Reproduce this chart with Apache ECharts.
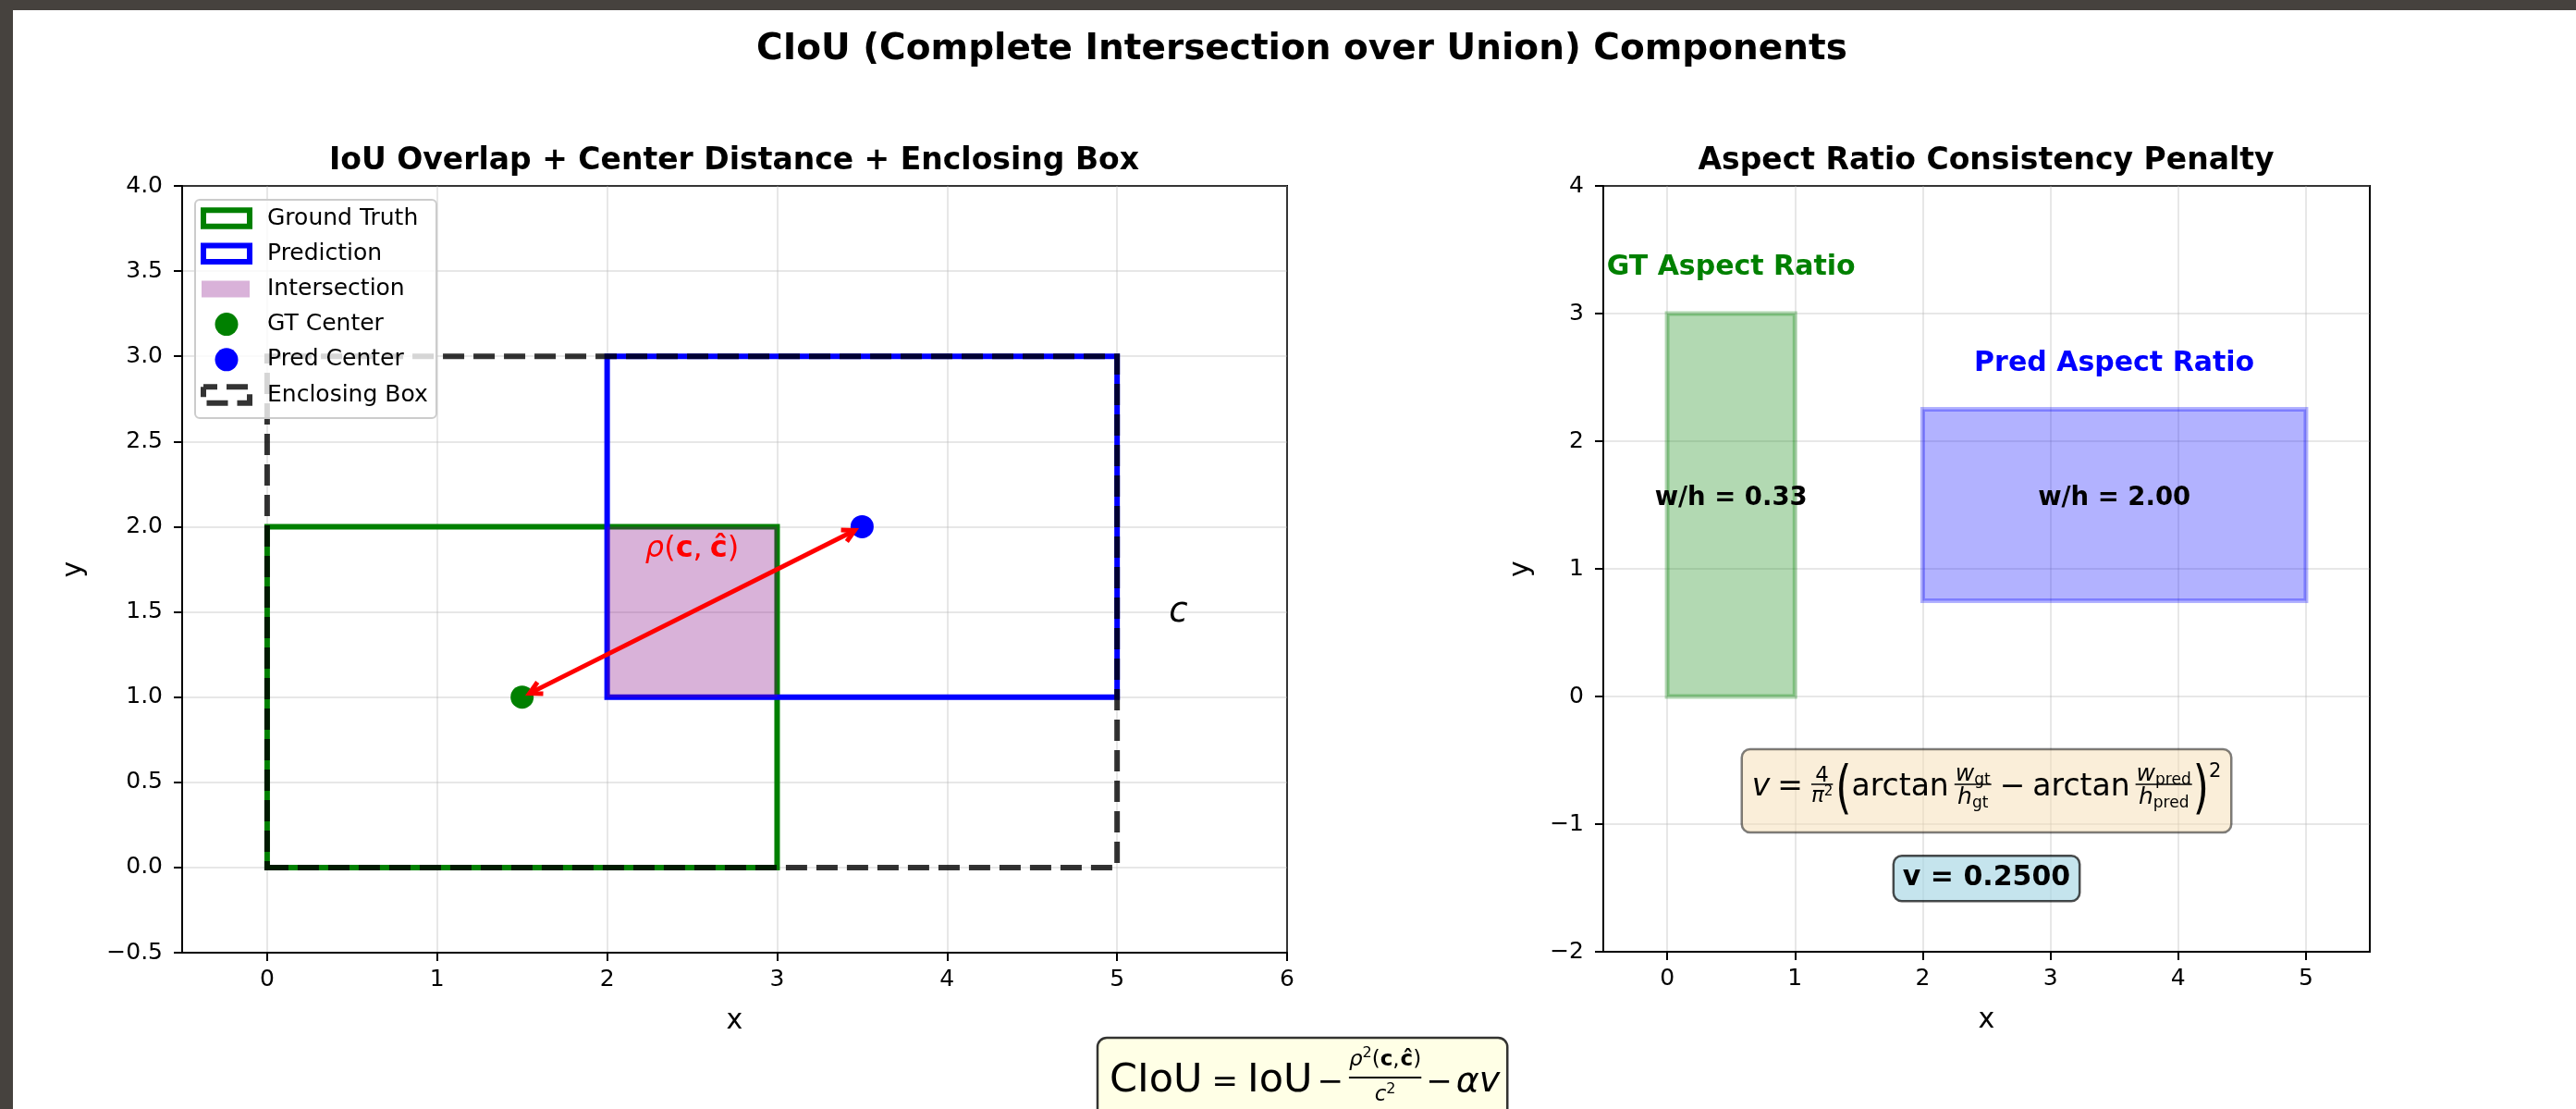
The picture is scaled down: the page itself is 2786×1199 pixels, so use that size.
<!DOCTYPE html>
<html><head><meta charset="utf-8">
<script src="https://cdn.jsdelivr.net/npm/echarts@6/dist/echarts.min.js"></script>
<style>
html,body{margin:0;padding:0;background:#46423e;width:2786px;height:1199px;overflow:hidden}
#bg{position:absolute;left:14px;top:11px;width:2772px;height:1188px;background:#fff}
#chart{position:absolute;left:0;top:0;width:2786px;height:1199px}
</style></head><body><div id="bg"></div><div id="chart"></div>
<script>
// ================= DATA =================
// Left panel: boxes as [x1, y1, x2, y2]
const gtBox = [0, 0, 3, 2];
const predBox = [2, 1, 5, 3];
const interBox = [2, 1, 3, 2];
const enclosingBox = [0, 0, 5, 3];
const gtCenter = [1.5, 1.0];
const predCenter = [3.5, 2.0];
const leftXTicks = [0, 1, 2, 3, 4, 5, 6];
const leftYTicks = [-0.5, 0, 0.5, 1, 1.5, 2, 2.5, 3, 3.5, 4];
// Right panel
const gtAspectRect = [0, 0, 1, 3];
const predAspectRect = [2, 0.75, 5, 2.25];
const aspectRatioLabels = ['w/h = 0.33', 'w/h = 2.00'];
const vValue = 0.2500;
const rightXTicks = [0, 1, 2, 3, 4, 5];
const rightYTicks = [-2, -1, 0, 1, 2, 3, 4];
const legendNames = ['Ground Truth', 'Prediction', 'Intersection', 'GT Center', 'Pred Center', 'Enclosing Box'];

// ================= HELPERS =================
const FONT = '"DejaVu Sans", sans-serif';
const mctx = document.createElement('canvas').getContext('2d');
function fnt(s, it, b) { return (it ? 'italic ' : '') + (b ? 'bold ' : '') + s + 'px ' + FONT; }
function tw(t, f) { mctx.font = f; return mctx.measureText(t).width; }
const MID = 0.27; // em-middle above baseline (fraction of size)

function itemW(it) {
  if (it.gap != null) return it.gap;
  if (it.num) return Math.max(runW(it.num), runW(it.den)) + 2 * (it.pad != null ? it.pad : 3);
  return tw(it.t, fnt(it.s, it.it, it.b)) * (it.sx || 1);
}
function runW(items) { return items.reduce((a, it) => a + itemW(it), 0); }
function renderRun(items, x, base, color, out) {
  for (const it of items) {
    const w = itemW(it);
    if (it.num) {
      const bar = base - it.axis;
      out.push({ type: 'rect', shape: { x: x + 1, y: bar - it.lw / 2, width: w - 2, height: it.lw }, style: { fill: color } });
      const nw = runW(it.num), dw = runW(it.den);
      renderRun(it.num, x + (w - nw) / 2, bar - it.nb, color, out);
      renderRun(it.den, x + (w - dw) / 2, bar + it.db, color, out);
    } else if (it.t != null) {
      const ty = (it.cy != null) ? base - it.cy : base - (it.dy || 0) - MID * it.s;
      out.push({ type: 'text', x: x, y: ty, scaleX: it.sx || 1, scaleY: it.sy || 1,
        style: { text: it.t, x: 0, y: 0, font: fnt(it.s, it.it, it.b), fill: color, align: 'left', verticalAlign: 'middle' } });
    }
    x += w;
  }
  return x;
}

// ---- formula definitions ----
const B = 43, BO = 34, BS = 23, BSS = 16;
const ciouFormula = [
  { t: 'CIoU', s: B }, { gap: 10 }, { t: '=', s: BO }, { gap: 10 }, { t: 'IoU', s: B },
  { gap: 5 }, { t: '−', s: BO }, { gap: 5 },
  { num: [{ t: 'ρ', s: BS, it: true }, { t: '2', s: BSS, dy: 9 }, { t: '(', s: BS }, { t: 'c', s: BS, b: true },
          { t: ',', s: BS }, { gap: 1 }, { t: 'ĉ', s: BS, b: true }, { t: ')', s: BS }],
    den: [{ t: 'c', s: BS, it: true }, { t: '2', s: BSS, dy: 8 }], axis: 15, nb: 13, db: 25, lw: 2, pad: 1 },
  { gap: 4 }, { t: '−', s: BO }, { gap: 4 }, { t: 'α', s: 38, it: true }, { t: 'v', s: 38, it: true }
];
const V = 33, VS = 25, VSS = 17;
function fracWH(sub) {
  return { num: [{ t: 'w', s: VS, it: true }, { t: sub, s: VSS, dy: -4 }],
           den: [{ t: 'h', s: VS, it: true }, { t: sub, s: VSS, dy: -4 }], axis: 12, nb: 4, db: 21, lw: 1.5, pad: 2 };
}
const vFormula = [
  { t: 'v', s: V, it: true }, { gap: 8 }, { t: '=', s: V }, { gap: 8 },
  { num: [{ t: '4', s: 23 }], den: [{ t: 'π', s: 23, it: true }, { t: '2', s: 15, dy: 7 }], axis: 12, nb: 3, db: 19, lw: 1.5, pad: 1 },
  { gap: 2 }, { t: '(', s: 44, sy: 1.4, cy: 4 },
  { t: 'arctan', s: V }, { gap: 5 }, fracWH('gt'),
  { gap: 8 }, { t: '−', s: V }, { gap: 8 },
  { t: 'arctan', s: V }, { gap: 5 }, fracWH('pred'),
  { t: ')', s: 44, sy: 1.4, cy: 4 },
  { t: '2', s: 21, dy: 20 }
];
const rhoLabel = [{ t: 'ρ', s: 32, it: true }, { t: '(', s: 32 }, { t: 'c', s: 32, b: true }, { t: ',', s: 32 }, { gap: 8 },
                  { t: 'ĉ', s: 32, b: true }, { t: ')', s: 32 }];

// ---- series factories ----
function boxSeries(gi, box, style, z) {
  return { type: 'custom', xAxisIndex: gi, yAxisIndex: gi, z: z || 2, silent: true, data: [box],
    renderItem(params, api) {
      const p1 = api.coord([api.value(0), api.value(1)]);
      const p2 = api.coord([api.value(2), api.value(3)]);
      return { type: 'polygon', shape: { points: [[p1[0], p1[1]], [p2[0], p1[1]], [p2[0], p2[1]], [p1[0], p2[1]]] }, style: style };
    } };
}
function annotSeries(gi, anchors, builders, z) {
  return { type: 'custom', xAxisIndex: gi, yAxisIndex: gi, z: z || 6, silent: true, data: anchors,
    renderItem(params, api) {
      const p = api.coord([api.value(0), api.value(1)]);
      return { type: 'group', children: builders[params.dataIndex](p) };
    } };
}
function centeredRun(items, color) {
  return (p) => { const out = []; const w = runW(items); renderRun(items, p[0] - w / 2, p[1], color, out); return out; };
}
function plainText(text, size, bold, color, italic) {
  return (p) => [{ type: 'text', style: { text: text, x: p[0], y: p[1] - MID * size, font: fnt(size, italic, bold), fill: color, align: 'center', verticalAlign: 'middle' } }];
}
function boxedRun(items, color, fill, stroke, up, down, pad, r) {
  return (p) => {
    const out = []; const w = runW(items);
    out.push({ type: 'rect', shape: { x: p[0] - w / 2 - pad, y: p[1] - up, width: w + 2 * pad, height: up + down, r: r },
      style: { fill: fill, stroke: stroke, lineWidth: 2.5 } });
    renderRun(items, p[0] - w / 2, p[1], color, out);
    return out;
  };
}
function fmt(v, d) { const s = Math.abs(v).toFixed(d); return v < 0 ? '−' + s : s; }

function axis(gi, min, max, opts) {
  return Object.assign({
    type: 'value', gridIndex: gi, min: min, max: max, nameLocation: 'middle',
    axisLine: { show: true, onZero: false, lineStyle: { color: '#000', width: 2 } },
    axisTick: { show: true, inside: false, length: 9, lineStyle: { color: '#000', width: 2 } },
    splitLine: { show: true, lineStyle: { color: 'rgba(176,176,176,0.3)', width: 2 } },
    nameTextStyle: { color: '#000', fontSize: 30, fontFamily: FONT }
  }, opts);
}

const chart = echarts.init(document.getElementById('chart'), null, { renderer: 'canvas', width: 2786, height: 1199 });

const option = {
  backgroundColor: 'transparent',
  animation: false,
  title: [
    { text: 'CIoU (Complete Intersection over Union) Components', left: 1408, top: 34, textAlign: 'center', padding: 0,
      textStyle: { fontSize: 39, fontWeight: 'bold', color: '#000', fontFamily: FONT } },
    { text: 'IoU Overlap + Center Distance + Enclosing Box', left: 794, top: 157.5, textAlign: 'center', padding: 0,
      textStyle: { fontSize: 33, fontWeight: 'bold', color: '#000', fontFamily: FONT } },
    { text: 'Aspect Ratio Consistency Penalty', left: 2148, top: 157.5, textAlign: 'center', padding: 0,
      textStyle: { fontSize: 33, fontWeight: 'bold', color: '#000', fontFamily: FONT } }
  ],
  grid: [
    { left: 197, top: 201, width: 1195, height: 829, show: true, borderColor: '#000', borderWidth: 2, backgroundColor: 'transparent' },
    { left: 1734, top: 201, width: 829, height: 828, show: true, borderColor: '#000', borderWidth: 2, backgroundColor: 'transparent' }
  ],
  xAxis: [
    axis(0, -0.5, 6, { splitNumber: 7, name: 'x', nameGap: 59,
      axisTick: { show: true, inside: false, length: 9, customValues: leftXTicks, lineStyle: { color: '#000', width: 2 } },
      axisLabel: { customValues: leftXTicks, margin: 17, color: '#000', fontSize: 25, fontFamily: FONT,
        formatter: v => Number.isInteger(v) ? fmt(v, 0) : '' } }),
    axis(1, -0.5, 5.5, { splitNumber: 6, name: 'x', nameGap: 59,
      axisTick: { show: true, inside: false, length: 9, customValues: rightXTicks, lineStyle: { color: '#000', width: 2 } },
      axisLabel: { customValues: rightXTicks, margin: 17, color: '#000', fontSize: 25, fontFamily: FONT,
        formatter: v => Number.isInteger(v) ? fmt(v, 0) : '' } })
  ],
  yAxis: [
    axis(0, -0.5, 4, { interval: 0.5, name: 'y', nameGap: 102, nameRotate: 90,
      axisLabel: { margin: 21, color: '#000', fontSize: 25, fontFamily: FONT, formatter: v => fmt(v, 1) } }),
    axis(1, -2, 4, { interval: 1, name: 'y', nameGap: 74, nameRotate: 90,
      axisLabel: { margin: 21, color: '#000', fontSize: 25, fontFamily: FONT, formatter: v => fmt(v, 0) } })
  ],
  series: [
    // ----- left panel -----
    Object.assign(boxSeries(0, gtBox, { fill: null, stroke: 'green', lineWidth: 6, lineJoin: 'miter' }), { name: legendNames[0] }),
    Object.assign(boxSeries(0, predBox, { fill: null, stroke: 'blue', lineWidth: 6, lineJoin: 'miter' }), { name: legendNames[1] }),
    Object.assign(boxSeries(0, interBox, { fill: 'rgba(128,0,128,0.3)', stroke: null }), { name: legendNames[2] }),
    { type: 'scatter', name: legendNames[3], xAxisIndex: 0, yAxisIndex: 0, data: [gtCenter], symbol: 'circle', symbolSize: 25,
      itemStyle: { color: 'green', opacity: 1 }, z: 3, silent: true },
    { type: 'scatter', name: legendNames[4], xAxisIndex: 0, yAxisIndex: 0, data: [predCenter], symbol: 'circle', symbolSize: 25,
      itemStyle: { color: 'blue', opacity: 1 }, z: 3, silent: true },
    { type: 'custom', xAxisIndex: 0, yAxisIndex: 0, z: 4, silent: true, data: [[gtCenter[0], gtCenter[1], predCenter[0], predCenter[1]]],
      renderItem(params, api) {
        const a = api.coord([api.value(0), api.value(1)]), b = api.coord([api.value(2), api.value(3)]);
        const dx = b[0] - a[0], dy = b[1] - a[1], L = Math.hypot(dx, dy), ux = dx / L, uy = dy / L;
        const sh = 9, hl = 13, hw = 7, nx = -uy, ny = ux;
        const A = [a[0] + ux * sh, a[1] + uy * sh], Bp = [b[0] - ux * sh, b[1] - uy * sh];
        const head = (tip, d) => { const bs = [tip[0] - d[0] * hl, tip[1] - d[1] * hl];
          return [[bs[0] + nx * hw, bs[1] + ny * hw], tip, [bs[0] - nx * hw, bs[1] - ny * hw]]; };
        const st = { stroke: 'red', lineWidth: 5, fill: null, lineJoin: 'miter', lineCap: 'butt' };
        return { type: 'group', children: [
          { type: 'line', shape: { x1: A[0], y1: A[1], x2: Bp[0], y2: Bp[1] }, style: st },
          { type: 'polyline', shape: { points: head(Bp, [ux, uy]) }, style: st },
          { type: 'polyline', shape: { points: head(A, [-ux, -uy]) }, style: st }
        ] };
      } },
    Object.assign(boxSeries(0, enclosingBox, { fill: null, stroke: 'rgba(0,0,0,0.8)', lineWidth: 6, lineDash: [23, 10], lineJoin: 'miter' }, 5), { name: legendNames[5] }),
    annotSeries(0, [[2.5, 1.82], [5.36, 1.44]], [
      centeredRun(rhoLabel, 'red'),
      plainText('c', 37, false, '#000', true)
    ]),
    // ----- right panel -----
    boxSeries(1, gtAspectRect, { fill: 'green', stroke: 'green', lineWidth: 5, opacity: 0.3 }),
    boxSeries(1, predAspectRect, { fill: 'blue', stroke: 'blue', lineWidth: 5, opacity: 0.3 }),
    annotSeries(1, [[0.5, 3.3], [3.5, 2.55], [0.5, 1.5], [3.5, 1.5], [2.5, -0.775], [2.5, -1.48]], [
      plainText('GT Aspect Ratio', 30, true, 'green'),
      plainText('Pred Aspect Ratio', 30, true, 'blue'),
      plainText(aspectRatioLabels[0], 27.5, true, '#000'),
      plainText(aspectRatioLabels[1], 27.5, true, '#000'),
      boxedRun(vFormula, '#000', 'rgba(245,222,179,0.5)', 'rgba(0,0,0,0.5)', 50, 40, 11, 9),
      boxedRun([{ t: 'v = ' + vValue.toFixed(4), s: 30, b: true }], '#000', 'rgba(173,216,230,0.7)', 'rgba(0,0,0,0.7)', 32, 17, 10, 9)
    ])
  ],
  graphic: []
};
chart.setOption(option);

// ---- legend (matplotlib style) + figure-level formula ----
(function () {
  const els = [];
  els.push({ type: 'rect', z: 100, shape: { x: 211, y: 216, width: 261, height: 236, r: 5 },
    style: { fill: 'rgba(255,255,255,0.8)', stroke: '#cccccc', lineWidth: 2 } });
  const kinds = [
    { k: 'rect', c: 'green' }, { k: 'rect', c: 'blue' }, { k: 'fill', c: 'rgba(128,0,128,0.3)' },
    { k: 'dot', c: 'green' }, { k: 'dot', c: 'blue' }, { k: 'dash', c: 'rgba(0,0,0,0.8)' }
  ];
  kinds.forEach((kd, i) => {
    const cy = 236 + i * 38.2;
    if (kd.k === 'rect') els.push({ type: 'rect', z: 101, shape: { x: 220, y: cy - 8.75, width: 50, height: 17.5 }, style: { fill: null, stroke: kd.c, lineWidth: 6, lineJoin: 'miter' } });
    if (kd.k === 'fill') els.push({ type: 'rect', z: 101, shape: { x: 218, y: cy - 9, width: 52, height: 18 }, style: { fill: kd.c } });
    if (kd.k === 'dot') els.push({ type: 'circle', z: 101, shape: { cx: 245, cy: cy, r: 12.5 }, style: { fill: kd.c } });
    if (kd.k === 'dash') els.push({ type: 'polyline', z: 101, shape: { points: [[220, cy - 8.75], [220, cy + 8.75], [270, cy + 8.75], [270, cy - 8.75], [220, cy - 8.75]] },
      style: { fill: null, stroke: kd.c, lineWidth: 6, lineDash: [23, 10], lineDashOffset: 12, lineJoin: 'miter' } });
    els.push({ type: 'text', z: 101, style: { text: legendNames[i], x: 289, y: cy, font: fnt(25), fill: '#000', align: 'left', verticalAlign: 'middle' } });
  });
  const w = runW(ciouFormula), x0 = 1200, base = 1180;
  const parts = [];
  parts.push({ type: 'rect', shape: { x: x0 - 13, y: base - 58, width: w + 21, height: 110, r: 10 },
    style: { fill: 'rgba(255,255,224,0.8)', stroke: 'rgba(0,0,0,0.8)', lineWidth: 2.5 } });
  renderRun(ciouFormula, x0, base, '#000', parts);
  parts.forEach(p => { p.z = 100; els.push(p); });
  chart.setOption({ graphic: els });
})();
</script></body></html>
